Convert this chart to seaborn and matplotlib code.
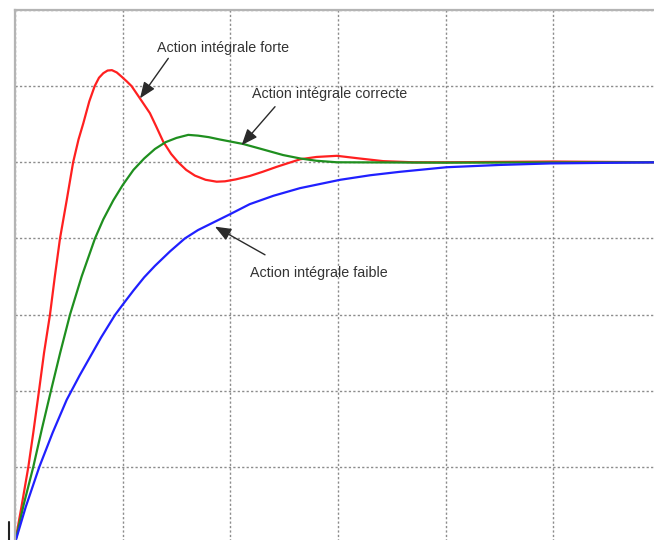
import matplotlib
matplotlib.use("Agg")
import matplotlib.pyplot as plt
from matplotlib.lines import Line2D
import pandas as pd
import seaborn as sns

# Step responses of a PI-controlled loop for three integral gains
t_forte = [0, 0.06, 0.124, 0.17, 0.223, 0.27, 0.325, 0.37, 0.418, 0.48, 0.54,
           0.59, 0.634, 0.69, 0.74, 0.78, 0.82, 0.86, 0.90, 0.945, 0.99, 1.04,
           1.083, 1.16, 1.253, 1.31, 1.377, 1.45, 1.516, 1.59, 1.671, 1.77,
           1.873, 1.95, 2.05, 2.18, 2.3, 2.43, 2.55, 2.65, 2.8, 2.99, 3.2,
           3.42, 3.7, 4.0, 5.0, 6.0]
y_forte = [0, 0.095, 0.2, 0.29, 0.4, 0.5, 0.6, 0.7, 0.8, 0.9, 1.0,
           1.06, 1.102, 1.16, 1.2, 1.222, 1.234, 1.241, 1.242, 1.236, 1.225,
           1.212, 1.2, 1.168, 1.129, 1.095, 1.054, 1.022, 1.0, 0.98, 0.965,
           0.954, 0.949, 0.95, 0.955, 0.964, 0.975, 0.988, 0.999, 1.008, 1.014,
           1.017, 1.01, 1.003, 1.0, 1.0, 1.002, 1.0]

t_correcte = [0, 0.08, 0.17, 0.25, 0.334, 0.42, 0.511, 0.619, 0.743, 0.82,
              0.913, 1.0, 1.1, 1.2, 1.3, 1.4, 1.5, 1.609, 1.7, 1.8, 1.9, 2.01,
              2.12, 2.3, 2.49, 2.65, 2.8, 2.99, 4.0, 6.0]
y_correcte = [0, 0.1, 0.2, 0.3, 0.4, 0.5, 0.6, 0.7, 0.8, 0.85,
              0.9, 0.94, 0.98, 1.01, 1.035, 1.053, 1.064, 1.072, 1.07, 1.066,
              1.06, 1.054, 1.048, 1.034, 1.019, 1.01, 1.004, 1.0, 0.999, 1.0]

t_faible = [0, 0.1, 0.226, 0.35, 0.48, 0.6, 0.7, 0.8, 0.929, 1.0, 1.1, 1.2,
            1.3, 1.44, 1.578, 1.7, 1.85, 2.0, 2.18, 2.4, 2.646, 3.02, 3.3,
            3.575, 4.008, 4.5, 4.97, 6.0]
y_faible = [0, 0.095, 0.2, 0.29, 0.376, 0.44, 0.49, 0.54, 0.599, 0.626,
            0.663, 0.698, 0.728, 0.766, 0.8, 0.822, 0.843, 0.864, 0.89, 0.912,
            0.932, 0.954, 0.966, 0.975, 0.987, 0.993, 0.997, 1.0]

labels = ["Action intégrale forte", "Action intégrale correcte",
          "Action intégrale faible"]
colors = ["#ff2020", "#1f8f1f", "#2020ff"]

x_ticks = [0, 1, 2, 3, 4, 5, 6]
y_ticks = [0, 0.2, 0.4, 0.6, 0.8, 1.0, 1.2, 1.4]

frames = []
for name, t, y in zip(labels, [t_forte, t_correcte, t_faible],
                      [y_forte, y_correcte, y_faible]):
    frames.append(pd.DataFrame({"t": t, "y": y, "courbe": name}))
df = pd.concat(frames, ignore_index=True)

sns.set_style("white")
plt.rcParams["font.family"] = ["Liberation Sans", "DejaVu Sans"]

fig = plt.figure(figsize=(6.54, 5.40), dpi=100)
ax = fig.add_axes([15 / 654, -3 / 540, 646 / 654, 533 / 540])

sns.lineplot(data=df, x="t", y="y", hue="courbe", hue_order=labels,
             palette=colors, estimator=None, sort=False, linewidth=1.6,
             legend=False, ax=ax)
for line in ax.get_lines():
    line.set_solid_joinstyle("round")

ax.set_xlim(0, 6)
ax.set_ylim(0, 1.4)
ax.set_xticks(x_ticks)
ax.set_yticks(y_ticks)
ax.set_xticklabels([])
ax.set_yticklabels([])
ax.tick_params(length=0)
ax.set_xlabel("")
ax.set_ylabel("")
ax.grid(True, color="#8c8c8c", linestyle=(0, (1.6, 1.6)), linewidth=1.0)
ax.set_axisbelow(True)

for side in ["top", "left"]:
    ax.spines[side].set_color("#b4b4b4")
    ax.spines[side].set_linewidth(1.6)
for side in ["right", "bottom"]:
    ax.spines[side].set_visible(False)

# Annotations: text position and arrow pointing to each curve
notes = [
    (labels[0], (1.316, 1.290), (1.424, 1.273), (1.161, 1.168)),
    (labels[1], (2.198, 1.168), (2.415, 1.146), (2.105, 1.045)),
    (labels[2], (2.183, 0.700), (2.322, 0.757), (1.857, 0.831)),
]
for text, pos, tail, tip in notes:
    ax.text(pos[0], pos[1], text, ha="left", va="baseline", fontsize=10.3,
            color="#333333")
    ax.annotate("", xy=tip, xytext=tail,
                arrowprops=dict(arrowstyle="-|>,head_length=0.7,head_width=0.28",
                                mutation_scale=14, color="#2a2a2a", lw=1.0,
                                shrinkA=0, shrinkB=0))

# small tick left of the origin
fig.add_artist(Line2D([9 / 654, 9 / 654], [0, 18 / 540], color="#222222",
                      linewidth=1.5))

fig.savefig("out.png", dpi=100)
